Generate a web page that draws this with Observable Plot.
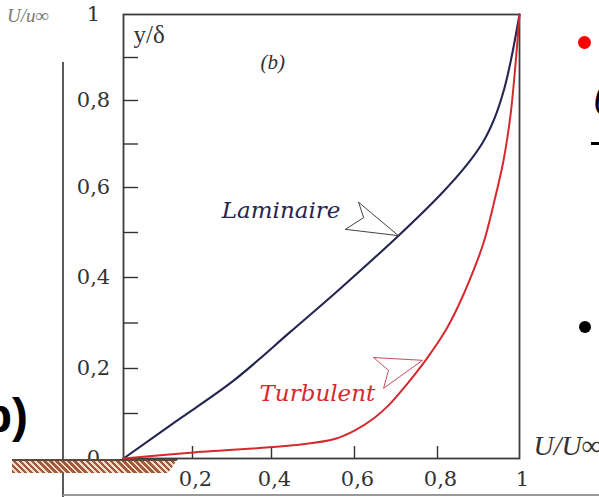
<!DOCTYPE html>
<html>
<head>
<meta charset="utf-8">
<script src="https://cdn.jsdelivr.net/npm/d3@7"></script>
<script src="https://cdn.jsdelivr.net/npm/@observablehq/plot@0.6"></script>
<style>
  body { margin: 0; background: #fff; }
  #fig { position: relative; width: 599px; height: 497px; overflow: hidden; background: #fff; }
  #fig svg { position: absolute; left: 0; top: 0; }
  .deco { position: absolute; }
</style>
</head>
<body>
<div id="fig"></div>
<script>
// Velocity profiles in a flat-plate boundary layer: y/δ against U/U∞

// Laminar profile
const laminarU = [0, 0.151, 0.304, 0.446, 0.566, 0.706, 0.807, 0.868, 0.910, 0.939, 0.963, 0.980, 1];
const laminarY = [0, 0.082, 0.173, 0.281, 0.376, 0.493, 0.584, 0.648, 0.703, 0.759, 0.828, 0.898, 1];

// Turbulent profile
const turbulentU = [0, 0.194, 0.470, 0.554, 0.600, 0.646, 0.682, 0.728, 0.776, 0.820, 0.851, 0.880, 0.912, 0.939, 0.961, 0.978, 0.990, 1];
const turbulentY = [0, 0.013, 0.031, 0.044, 0.062, 0.089, 0.118, 0.167, 0.224, 0.284, 0.338, 0.398, 0.476, 0.571, 0.662, 0.766, 0.881, 1];

// Annotation pointers (vertices in data units) and their labels
const laminarPointerU = [0.61, 0.706, 0.578, 0.622, 0.61];
const laminarPointerY = [0.567, 0.493, 0.507, 0.533, 0.567];
const turbulentPointerU = [0.646, 0.764, 0.67, 0.682, 0.646];
const turbulentPointerY = [0.224, 0.218, 0.156, 0.196, 0.224];
const curveLabels = ["Laminaire", "Turbulent"];
const curveLabelU = [0.566, 0.65];
const curveLabelY = [0.549, 0.144];

// Axes
const yTickValues = [0, 0.2, 0.4, 0.6, 0.8, 1];
const yTickMarks = [0.1, 0.2, 0.3, 0.4, 0.5, 0.6, 0.7, 0.8, 0.9];
const xTickMarks = [0.2, 0.4, 0.6, 0.8];
const xTickValues = [0.2, 0.4, 0.6, 0.8, 1];

const zip = (us, ys) => us.map((u, i) => ({u, y: ys[i]}));
const laminar = zip(laminarU, laminarY);
const turbulent = zip(turbulentU, turbulentY);
const laminarPointer = zip(laminarPointerU, laminarPointerY);
const turbulentPointer = zip(turbulentPointerU, turbulentPointerY);
const labels = curveLabels.map((t, i) => ({t, u: curveLabelU[i], y: curveLabelY[i]}));

const fmt = d => (d === 0 || d === 1) ? String(d) : d.toFixed(1).replace(".", ",");
const serif = "'Liberation Serif', 'Times New Roman', serif";
const bookSerif = "'DejaVu Serif', serif";
const navy = "#25254f";
const red = "#d42a2e";

// The printed graduations are slightly uneven: warp values onto the drawn spacing
const grad = [0, 0.2, 0.4, 0.6, 0.8, 1];
const xWarp = d3.scaleLinear().domain(grad).range([0, 69, 148, 231, 314, 396]);
const yWarp = d3.scaleLinear().domain(grad).range([0, 90, 181, 271, 358, 444]);

const chart = Plot.plot({
  width: 599,
  height: 497,
  marginLeft: 123,
  marginRight: 80,
  marginTop: 14,
  marginBottom: 39,
  style: {fontFamily: serif, background: "transparent", color: "#333", overflow: "visible"},
  x: {transform: xWarp, domain: [0, 396]},
  y: {transform: yWarp, domain: [0, 444]},
  marks: [
    Plot.frame({stroke: "#3c3c3c", strokeWidth: 1.8}),
    Plot.axisY(yTickMarks, {tickSize: -15, text: null, label: null, stroke: "#333", strokeWidth: 1.4}),
    Plot.axisY(yTickValues, {tickSize: 0, tickPadding: 30, textAnchor: "middle", tickFormat: fmt, fontSize: 21,
      fontFamily: bookSerif, label: null, fill: "#333"}),
    Plot.axisX(xTickMarks, {tickSize: -12, text: null, label: null, stroke: "#333", strokeWidth: 1.4}),
    Plot.axisX(xTickValues, {tickSize: 0, tickPadding: 13, tickFormat: fmt, fontSize: 21, dx: 3,
      fontFamily: bookSerif, label: null, fill: "#333"}),
    Plot.line(laminar, {x: "u", y: "y", curve: "catmull-rom", stroke: navy, strokeWidth: 2.1}),
    Plot.line(turbulent, {x: "u", y: "y", curve: "catmull-rom", stroke: red, strokeWidth: 2}),
    Plot.line(laminarPointer, {x: "u", y: "y", fill: "white", stroke: "#444", strokeWidth: 1}),
    Plot.line(turbulentPointer, {x: "u", y: "y", fill: "white", stroke: "#c05060", strokeWidth: 1}),
    Plot.text(labels, {x: "u", y: "y", text: "t", textAnchor: "end", fontSize: 23, fontStyle: "italic",
      fontFamily: bookSerif, fill: d => d.t === "Turbulent" ? red : navy}),
    Plot.text(["y/δ"], {frameAnchor: "top-left", dx: 10, dy: 11, fontSize: 25, fill: "#333"}),
    Plot.text(["(b)"], {frameAnchor: "top-left", dx: 137, dy: 40, fontSize: 21, fontStyle: "italic", fill: "#333"}),
    Plot.text(["U/U∞"], {frameAnchor: "bottom-right", dx: 14, dy: -4, textAnchor: "start", fontSize: 28,
      fontStyle: "italic", fill: "#333"})
  ]
});

const fig = document.getElementById("fig");
fig.appendChild(chart);

// Surrounding page furniture and the wall under the plate
const deco = (css, text) => {
  const el = document.createElement("div");
  el.className = "deco";
  el.style.cssText = css;
  if (text) el.textContent = text;
  fig.appendChild(el);
};
deco("left:62px;top:62px;width:2px;height:435px;background:#5a5a5a;");
deco("left:63px;top:494px;width:536px;height:2px;background:#999;");
deco("left:12px;top:459px;width:166px;height:14px;border-top:2px solid #5a4a40;box-sizing:border-box;" +
     "background:repeating-linear-gradient(45deg,#a25a3a 0 2.5px,#f1ddd0 2.5px 4.3px);" +
     "clip-path:polygon(0 0,100% 0,94% 100%,0 100%);");
deco("left:7px;top:5px;font:italic 19px 'Liberation Serif',serif;color:#777;", "U/u∞");
deco("right:571px;top:392px;font:bold 48px 'Liberation Sans',sans-serif;line-height:1;color:#000;white-space:nowrap;", "(b)");
deco("left:578px;top:36px;width:13px;height:13px;border-radius:50%;background:#f00;");
deco("left:579px;top:321px;width:12px;height:12px;border-radius:50%;background:#000;");
deco("left:594px;top:76px;font:italic 38px 'Liberation Serif',serif;line-height:1;color:#000;", "(");
deco("left:591px;top:142px;width:9px;height:3px;background:#000;");
</script>
</body>
</html>
